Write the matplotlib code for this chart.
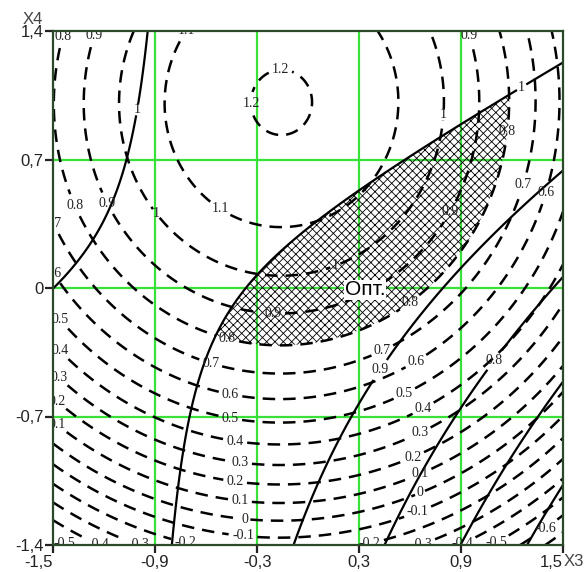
import numpy as np
import matplotlib
matplotlib.use("Agg")
import matplotlib.pyplot as plt

# ---------------- data ----------------
# Axis ticks
X_TICKS = [-1.5, -0.9, -0.3, 0.3, 0.9, 1.5]
X_TICK_LABELS = ["-1,5", "-0,9", "-0,3", "0,3", "0,9", "1,5"]
Y_TICKS = [-1.4, -0.7, 0.0, 0.7, 1.4]
Y_TICK_LABELS = ["-1,4", "-0,7", "0", "0,7", "1,4"]
X_GRID = [-0.9, -0.3, 0.3, 0.9]
Y_GRID = [-0.7, 0.0, 0.7]

# Dashed response (traced points x3, x4, level)
F_X = [-0.388, 0.088, -0.147, -0.147,
       -0.853, -0.30, 0.541,
       -1.118, 0.806, -1.03, 0.171,
       -1.294, -1.176, 0.924, -0.206,
       -0.30, 1.141, -1.447, -1.341, 0.60,
       -0.30, 1.247, 0.441, -1.476,
       -0.30, 1.406, 0.641, -1.476,
       -0.30, -1.50, 0.571, 1.441,
       -0.30, 0.676, -1.476,
       -0.30, 0.659, -1.476,
       -0.30, 0.618, -1.50,
       -0.30, 0.659, -1.50,
       -0.30, 0.659,
       -0.30, 0.641,
       1.406]
F_Y = [1.008, 1.008, 1.253, 0.763,
       1.024, 0.316, 1.024,
       1.024, 1.002, 1.40, 0.098,
       1.024, 0.463, 1.39, -0.147,
       -0.30, 0.697, 1.39, 0.463, -0.081,
       -0.436, 0.572, -0.348, 0.36,
       -0.60, 0.518, -0.408, 0.087,
       -0.73, -0.20, -0.583, 0.30,
       -0.844, -0.653, -0.31,
       -0.953, -0.79, -0.457,
       -1.06, -0.92, -0.62,
       -1.165, -1.007, -0.75,
       -1.258, -1.116,
       -1.356, -1.209,
       -1.318]
F_Z = [1.2, 1.2, 1.2, 1.2,
       1.1, 1.1, 1.1,
       1.0, 1.0, 1.0, 1.0,
       0.9, 0.9, 0.9, 0.9,
       0.8, 0.8, 0.8, 0.8, 0.8,
       0.7, 0.7, 0.7, 0.7,
       0.6, 0.6, 0.6, 0.6,
       0.5, 0.5, 0.5, 0.5,
       0.4, 0.4, 0.4,
       0.3, 0.3, 0.3,
       0.2, 0.2, 0.2,
       0.1, 0.1, 0.1,
       0.0, 0.0,
       -0.1, -0.1,
       -0.6]
F_LEVELS = [-0.7, -0.6, -0.5, -0.4, -0.3, -0.2, -0.1, 0.0, 0.1, 0.2, 0.3,
            0.4, 0.5, 0.6, 0.7, 0.8, 0.9, 1.0, 1.1, 1.2]

# Solid response (traced points x3, x4, level)
G_X = [-0.947, -1.006, -1.059, -1.165, -1.253, -1.382, -1.476,
       1.50, 1.259, 0.894, 0.482, 0.159, -0.165, -0.30, -0.441, -0.559,
       -0.635, -0.694, -0.753, -0.794,
       -0.047, 0.029, 0.147, 0.265, 0.406, 0.541, 0.912, 1.206, 1.288, 1.50,
       0.50, 0.641, 0.70, 0.876, 1.053, 1.171, 1.50,
       0.953, 1.171, 1.365, 1.50,
       1.365, 1.50]
G_Y = [1.40, 0.97, 0.708, 0.409, 0.262, 0.136, 0.055,
       1.226, 1.09, 0.899, 0.681, 0.441, 0.224, 0.06, -0.12, -0.267,
       -0.485, -0.681, -0.975, -1.334,
       -1.318, -1.10, -0.828, -0.68, -0.485, -0.299, 0.06, 0.387, 0.463, 0.643,
       -1.318, -1.062, -0.953, -0.681, -0.43, -0.337, 0.082,
       -1.318, -0.953, -0.681, -0.50,
       -1.28, -1.062]
G_Z = [1.0] * 7 + [1.0] * 13 + [0.9] * 10 + [0.8] * 7 + [0.7] * 4 + [0.6] * 2
G_LEVELS = [0.6, 0.7, 0.8, 0.9, 1.0]

# Optimum region thresholds
HATCH_F_MIN = 0.8
HATCH_G_MAX = 1.0
OPT_TEXT = "Опт."

# ---------------- fitting quadratic response surfaces ----------------
def fit_quad(x, y, z):
    x = np.asarray(x); y = np.asarray(y); z = np.asarray(z)
    A = np.column_stack([np.ones_like(x), x, y, x * x, x * y, y * y])
    c, *_ = np.linalg.lstsq(A, z, rcond=None)
    return c

def quad(c, X, Y):
    return c[0] + c[1] * X + c[2] * Y + c[3] * X * X + c[4] * X * Y + c[5] * Y * Y

cf = fit_quad(F_X, F_Y, F_Z)
cg = fit_quad(G_X, G_Y, G_Z)

xs = np.linspace(-1.5, 1.5, 500)
ys = np.linspace(-1.4, 1.4, 500)
XX, YY = np.meshgrid(xs, ys)
FF = quad(cf, XX, YY)
GG = quad(cg, XX, YY)

# ---------------- drawing ----------------
plt.rcParams["hatch.color"] = "black"
plt.rcParams["hatch.linewidth"] = 0.6

fig = plt.figure(figsize=(5.84, 5.72), dpi=100)
ax = fig.add_axes([53 / 584, 1 - 545 / 572, 510 / 584, 514 / 572])
ax.set_xlim(-1.5, 1.5)
ax.set_ylim(-1.4, 1.4)

for xv in X_GRID:
    ax.axvline(xv, color="#3ae03a", lw=1.6, zorder=1)
for yv in Y_GRID:
    ax.axhline(yv, color="#3ae03a", lw=1.6, zorder=1)

mask = ((FF >= HATCH_F_MIN) & (GG <= HATCH_G_MAX) & (XX > -0.8)).astype(float)
ax.contourf(XX, YY, mask, levels=[0.5, 1.5], colors="none", hatches=["xxxx"], zorder=2)

cs_f = ax.contour(XX, YY, FF, levels=F_LEVELS, colors="black", linewidths=1.8,
                  linestyles=[(0, (5.0, 3.2))], zorder=3)
cs_g = ax.contour(XX, YY, GG, levels=G_LEVELS, colors="black", linewidths=1.6,
                  linestyles="solid", zorder=3)

def fmt(v):
    return "{:g}".format(round(v, 2))

F_LABEL_POS = [(-0.165, 1.231), (-0.388, 1.002), (-0.53, 0.414), (-0.888, 0.409),
               (0.806, 0.942), (0.171, 0.098), (-1.176, 0.463), (0.818, 0.425),
               (-0.206, -0.147), (-1.341, 0.463), (1.188, 0.85), (-0.476, -0.283),
               (0.60, -0.081), (-0.576, -0.419), (0.441, -0.348), (1.247, 0.572),
               (-0.459, -0.593), (0.641, -0.408), (1.406, 0.518), (-0.459, -0.719),
               (0.571, -0.583), (-0.429, -0.844), (0.676, -0.653), (-0.40, -0.953),
               (0.659, -0.79), (-0.429, -1.056), (0.618, -0.92), (-0.40, -1.154),
               (0.659, -1.007), (-0.37, -1.253), (0.659, -1.116), (-0.382, -1.345),
               (0.641, -1.209), (1.406, -1.318),
               # labels near the frame edges
               (-1.44, 1.37), (-1.24, 1.37), (-0.52, 1.37), (0.92, 1.37),
               (-1.48, 0.36), (-1.48, 0.09), (-1.48, -0.19), (-1.48, -0.36),
               (-1.48, -0.50), (-1.48, -0.62), (-1.48, -0.75),
               (-1.42, -1.375), (-1.22, -1.375), (-0.96, -1.375), (-0.72, -1.375),
               (0.36, -1.375), (0.66, -1.375), (0.9, -1.375), (1.1, -1.375)]
G_LABEL_POS = [(-1.006, 0.97), (1.259, 1.09), (0.424, -0.446), (1.112, -0.403)]

lab_f = ax.clabel(cs_f, manual=F_LABEL_POS, inline=True, inline_spacing=1,
                  fmt=fmt, fontsize=10, colors="#222222")
lab_g = ax.clabel(cs_g, manual=G_LABEL_POS, inline=True, inline_spacing=1,
                  fmt=fmt, fontsize=10, colors="#222222")
for t in list(lab_f) + list(lab_g):
    t.set_fontfamily("Liberation Serif")
    t.set_rotation(0)
    t.set_clip_on(True)

ax.text(0.335, -0.01, OPT_TEXT, ha="center", va="center", fontsize=15,
        family="Liberation Sans", color="black", zorder=6,
        bbox=dict(facecolor="white", edgecolor="none", pad=0.5))

ax.set_xticks(X_TICKS)
ax.set_xticklabels(X_TICK_LABELS)
ax.set_yticks(Y_TICKS)
ax.set_yticklabels(Y_TICK_LABELS)
ax.tick_params(direction="out", length=6, width=1.6, pad=1, colors="#222222",
               labelsize=12)
for t in ax.get_xticklabels() + ax.get_yticklabels():
    t.set_fontfamily("Liberation Sans")
xt = ax.get_xticklabels()
xt[0].set_horizontalalignment("right")
xt[-1].set_horizontalalignment("right")
for s in ax.spines.values():
    s.set_color("#2a4a2a")
    s.set_linewidth(1.6)
    s.set_zorder(7)

fig.text(33 / 584, 1 - 19 / 572, "X4", ha="center", va="center", fontsize=12,
         family="Liberation Sans", color="#444444")
fig.text(574 / 584, 1 - 562 / 572, "X3", ha="center", va="center", fontsize=12,
         family="Liberation Sans", color="#444444")

fig.savefig("out.png", dpi=100)
